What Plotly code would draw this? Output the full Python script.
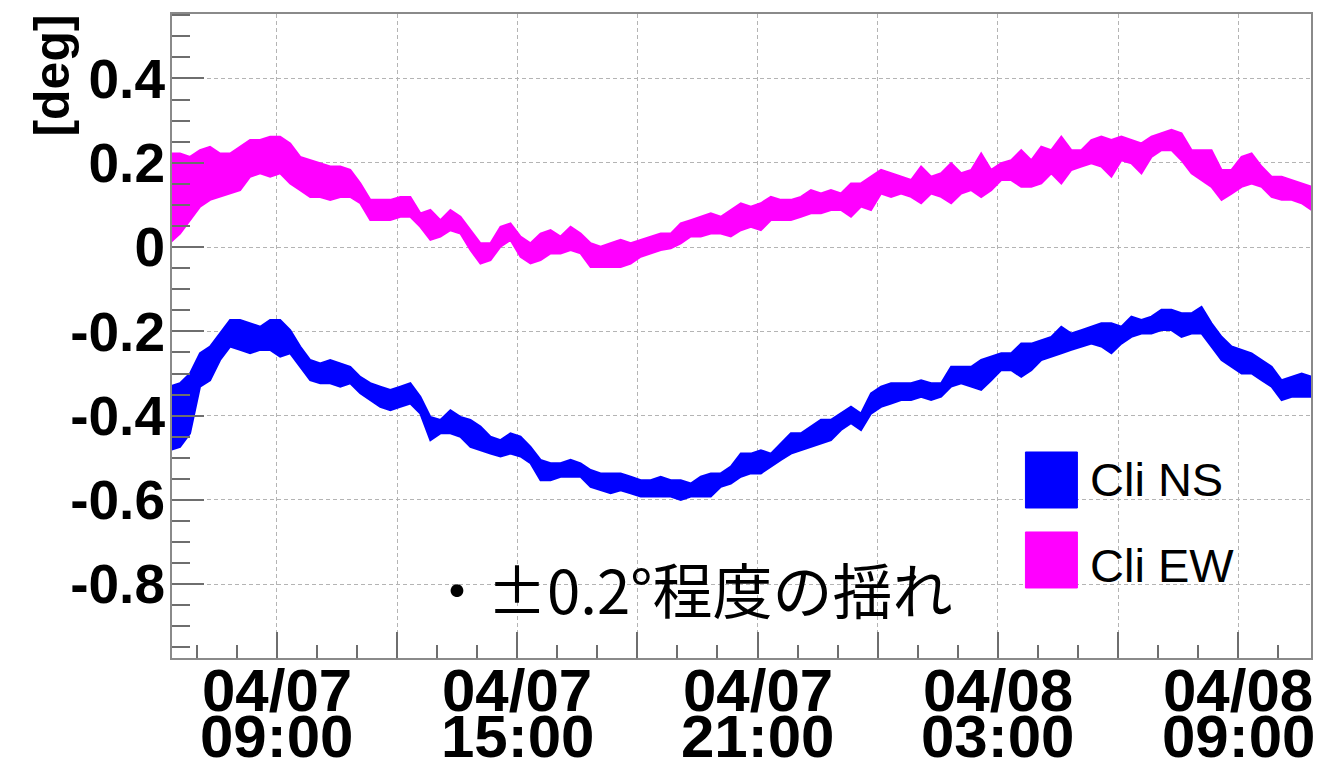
import pandas as pd
import plotly.graph_objects as go

# Inclinometer readings, 15-minute bins starting 2015-04-07 06:20.
# For every bin the upper and lower edge of the scattered readings [deg].
START = "2015-04-07 06:20"
STEP = "15min"

NS_hi = [-0.331, -0.323, -0.300, -0.252, -0.236, -0.205, -0.173, -0.173, -0.181, -0.189,
         -0.173, -0.173, -0.197, -0.236, -0.268, -0.276, -0.268, -0.276, -0.284, -0.308,
         -0.323, -0.331, -0.339, -0.331, -0.323, -0.355, -0.403, -0.410, -0.387, -0.403,
         -0.410, -0.426, -0.450, -0.458, -0.442, -0.450, -0.474, -0.505, -0.513, -0.513,
         -0.505, -0.513, -0.529, -0.537, -0.537, -0.537, -0.545, -0.553, -0.553, -0.545,
         -0.553, -0.553, -0.561, -0.545, -0.537, -0.537, -0.521, -0.490, -0.490, -0.482,
         -0.490, -0.466, -0.442, -0.442, -0.426, -0.410, -0.410, -0.395, -0.379, -0.395,
         -0.347, -0.331, -0.323, -0.323, -0.323, -0.316, -0.323, -0.323, -0.284, -0.284,
         -0.284, -0.268, -0.260, -0.252, -0.252, -0.229, -0.229, -0.221, -0.213, -0.189,
         -0.205, -0.197, -0.189, -0.181, -0.181, -0.189, -0.165, -0.173, -0.165, -0.149,
         -0.149, -0.157, -0.157, -0.142, -0.181, -0.213, -0.236, -0.244, -0.252, -0.268,
         -0.284, -0.316, -0.308, -0.300, -0.308]
NS_lo = [-0.482, -0.474, -0.442, -0.331, -0.316, -0.268, -0.236, -0.244, -0.252, -0.244,
         -0.244, -0.260, -0.252, -0.284, -0.316, -0.323, -0.323, -0.331, -0.323, -0.347,
         -0.363, -0.379, -0.387, -0.379, -0.371, -0.395, -0.458, -0.442, -0.442, -0.450,
         -0.474, -0.482, -0.490, -0.497, -0.490, -0.497, -0.513, -0.553, -0.553, -0.545,
         -0.545, -0.545, -0.569, -0.577, -0.584, -0.577, -0.584, -0.592, -0.592, -0.592,
         -0.592, -0.600, -0.592, -0.592, -0.592, -0.569, -0.561, -0.545, -0.537, -0.537,
         -0.521, -0.505, -0.490, -0.482, -0.474, -0.466, -0.458, -0.434, -0.418, -0.434,
         -0.395, -0.379, -0.371, -0.363, -0.363, -0.355, -0.363, -0.355, -0.331, -0.323,
         -0.331, -0.339, -0.316, -0.292, -0.292, -0.308, -0.292, -0.268, -0.260, -0.252,
         -0.244, -0.236, -0.229, -0.236, -0.252, -0.229, -0.213, -0.205, -0.205, -0.197,
         -0.197, -0.213, -0.205, -0.205, -0.236, -0.268, -0.284, -0.300, -0.300, -0.316,
         -0.331, -0.363, -0.355, -0.355, -0.355]

EW_hi = [0.222, 0.222, 0.214, 0.230, 0.238, 0.222, 0.222, 0.238, 0.254, 0.254,
         0.262, 0.262, 0.246, 0.214, 0.206, 0.199, 0.191, 0.191, 0.183, 0.151,
         0.112, 0.112, 0.112, 0.119, 0.119, 0.080, 0.088, 0.064, 0.088, 0.072,
         0.040, 0.009, 0.009, 0.048, 0.056, 0.025, 0.009, 0.032, 0.040, 0.025,
         0.048, 0.032, 0.009, 0.001, 0.009, 0.017, 0.009, 0.017, 0.025, 0.032,
         0.032, 0.056, 0.064, 0.072, 0.080, 0.072, 0.088, 0.104, 0.096, 0.104,
         0.119, 0.112, 0.112, 0.119, 0.135, 0.127, 0.135, 0.127, 0.151, 0.151,
         0.167, 0.183, 0.175, 0.167, 0.159, 0.191, 0.167, 0.175, 0.199, 0.175,
         0.183, 0.222, 0.183, 0.199, 0.206, 0.230, 0.206, 0.238, 0.230, 0.262,
         0.230, 0.230, 0.254, 0.262, 0.254, 0.262, 0.254, 0.246, 0.262, 0.270,
         0.278, 0.270, 0.230, 0.230, 0.230, 0.183, 0.183, 0.214, 0.222, 0.191,
         0.167, 0.167, 0.159, 0.151, 0.143]
EW_lo = [0.010, 0.032, 0.064, 0.096, 0.112, 0.119, 0.127, 0.135, 0.167, 0.175,
         0.167, 0.175, 0.151, 0.135, 0.119, 0.119, 0.112, 0.119, 0.119, 0.104,
         0.064, 0.064, 0.064, 0.072, 0.072, 0.048, 0.017, 0.025, 0.040, 0.032,
         -0.007, -0.039, -0.031, 0.001, 0.017, -0.023, -0.039, -0.031, -0.015, -0.015,
         -0.007, -0.015, -0.047, -0.047, -0.047, -0.047, -0.039, -0.023, -0.015, -0.007,
         -0.003, 0.009, 0.025, 0.025, 0.032, 0.032, 0.025, 0.040, 0.048, 0.040,
         0.064, 0.064, 0.064, 0.072, 0.080, 0.080, 0.088, 0.088, 0.072, 0.096,
         0.088, 0.127, 0.119, 0.127, 0.119, 0.104, 0.127, 0.119, 0.104, 0.127,
         0.135, 0.119, 0.135, 0.159, 0.159, 0.143, 0.143, 0.151, 0.175, 0.151,
         0.183, 0.191, 0.199, 0.191, 0.167, 0.206, 0.199, 0.175, 0.214, 0.230,
         0.230, 0.206, 0.175, 0.159, 0.143, 0.112, 0.127, 0.143, 0.151, 0.143,
         0.119, 0.112, 0.112, 0.104, 0.088]

# Axis ticks
Y_TICKS = [-0.8, -0.6, -0.4, -0.2, 0.0, 0.2, 0.4]
Y_TICKTEXT = ["-0.8", "-0.6", "-0.4", "-0.2", "0", "0.2", "0.4"]
X_GRID = ["2015-04-07 09:00", "2015-04-07 12:00", "2015-04-07 15:00", "2015-04-07 18:00",
          "2015-04-07 21:00", "2015-04-08 00:00", "2015-04-08 03:00", "2015-04-08 06:00",
          "2015-04-08 09:00"]
X_LABEL_TIMES = ["2015-04-07 09:00", "2015-04-07 15:00", "2015-04-07 21:00",
                 "2015-04-08 03:00", "2015-04-08 09:00"]
X_LABEL_DATE = ["04/07", "04/07", "04/07", "04/08", "04/08"]
X_LABEL_HOUR = ["09:00", "15:00", "21:00", "03:00", "09:00"]
X_RANGE = ["2015-04-07 06:23", "2015-04-08 10:49"]
Y_RANGE = [-0.975, 0.553]

SERIES = [("Cli NS", NS_hi, NS_lo, "#0000ff"), ("Cli EW", EW_hi, EW_lo, "#ff00ff")]

times = pd.date_range(START, periods=len(NS_hi), freq=STEP)

fig = go.Figure()
for name, hi, lo, color in SERIES:
    xs = list(times) + list(times[::-1])
    ys = list(hi) + list(lo[::-1])
    fig.add_trace(go.Scatter(x=xs, y=ys, mode="lines", fill="toself", fillcolor=color,
                             line=dict(color=color, width=2), name=name,
                             showlegend=False, hoverinfo="skip"))

FONT = "Liberation Sans, Arial, Helvetica, sans-serif"
frame = "#8a8a8a"
tickc = "#6e6e6e"
grid = dict(showgrid=True, gridcolor="#b4b4b4", gridwidth=1, griddash="4px,3px",
            showline=True, linecolor=frame, linewidth=2, mirror=True, zeroline=False)

fig.update_layout(
    width=1323, height=760,
    margin=dict(l=172, r=10, t=14, b=102),
    paper_bgcolor="white", plot_bgcolor="white",
    font=dict(family=FONT, color="black"),
    showlegend=False,
    xaxis=dict(
        type="date", range=X_RANGE,
        tickmode="array", tickvals=X_GRID, showticklabels=False,
        ticks="inside", ticklen=26, tickwidth=1.5, tickcolor=tickc,
        minor=dict(dtick=3600000, tick0="2015-04-07 00:00", ticks="inside",
                   ticklen=13, tickwidth=1.5, tickcolor=tickc, showgrid=False),
        **grid,
    ),
    yaxis=dict(
        range=Y_RANGE,
        tickmode="array", tickvals=Y_TICKS, ticktext=Y_TICKTEXT,
        tickfont=dict(size=55, family=FONT, color="black", weight="bold"),
        ticklabelstandoff=-6,
        ticks="inside", ticklen=32, tickwidth=1.5, tickcolor=tickc,
        minor=dict(dtick=0.05, tick0=0, ticks="inside", ticklen=18,
                   tickwidth=1.5, tickcolor=tickc, showgrid=False),
        **grid,
    ),
)

# Two-line date/time labels under the major x ticks
for t, d, h in zip(X_LABEL_TIMES, X_LABEL_DATE, X_LABEL_HOUR):
    fig.add_annotation(x=t, xref="x", y=-0.05, yref="paper", text=d, showarrow=False,
                       xanchor="center", yanchor="middle",
                       font=dict(size=60, family=FONT, weight="bold"))
    fig.add_annotation(x=t, xref="x", y=-0.122, yref="paper", text=h, showarrow=False,
                       xanchor="center", yanchor="middle",
                       font=dict(size=60, family=FONT, weight="bold"))

# y-axis title at the top of the axis
fig.add_annotation(x=-0.105, xref="paper", y=0.905, yref="paper", text="[deg]",
                   textangle=-90, showarrow=False, xanchor="center", yanchor="middle",
                   font=dict(size=50, family=FONT, weight="bold"))

# Legend: filled boxes with labels
legend_rows = [(0.2329, 0.3199, 0.2764), (0.1087, 0.1957, 0.1444)]
for (name, _, _, color), (y0, y1, ym) in zip(SERIES, legend_rows):
    fig.add_shape(type="rect", xref="paper", yref="paper", x0=0.7493, x1=0.7949,
                  y0=y0, y1=y1, fillcolor=color, line=dict(color=color, width=1))
    fig.add_annotation(x=0.8046, xref="paper", y=ym, yref="paper", text=name,
                       showarrow=False, xanchor="left", yanchor="middle",
                       font=dict(size=47, family=FONT))

# Note on the swing amplitude
fig.add_annotation(x=0.222, xref="paper", y=0.109, yref="paper", text="・±0.2°程度の揺れ",
                   showarrow=False, xanchor="left", yanchor="middle",
                   font=dict(size=60, family="Noto Sans CJK JP", color="black"))

fig.write_html("out.html")
